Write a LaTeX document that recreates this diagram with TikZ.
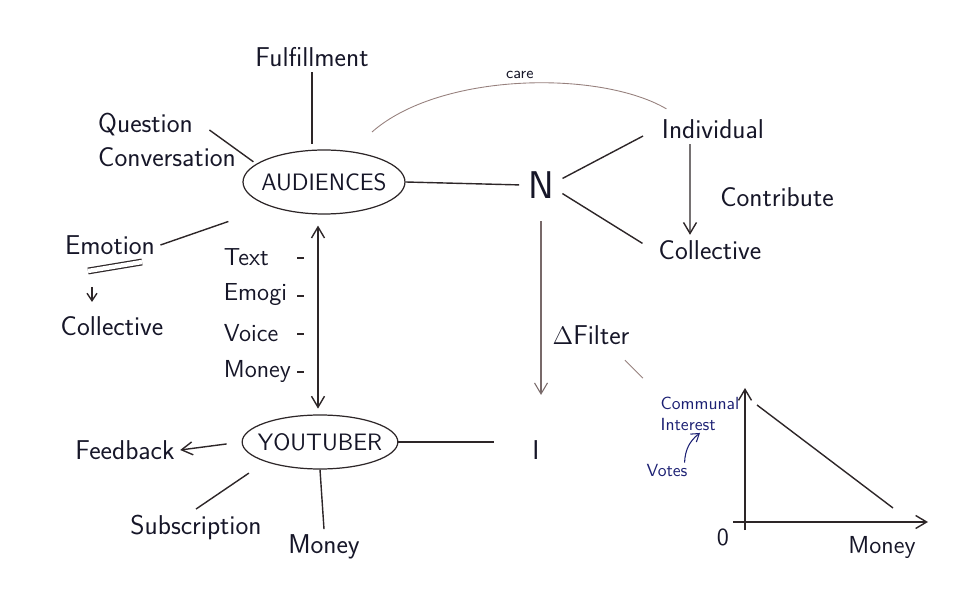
\documentclass[tikz,border=0pt]{standalone}
\usepackage{amsmath,amssymb}
\usepackage{tikz}
\usetikzlibrary{shapes.geometric, arrows.meta, positioning}

\definecolor{ink}{RGB}{22,22,40}
\definecolor{pen}{RGB}{45,38,40}
\definecolor{pencil}{RGB}{150,128,125}
\definecolor{greypen}{RGB}{120,105,105}
\definecolor{bluepen}{RGB}{28,32,115}

\begin{document}
\begin{tikzpicture}[
    x=0.02cm, y=-0.02cm,
    every node/.style={text=ink, font=\sffamily},
    word/.style={font=\sffamily\fontsize{15.5}{19}\selectfont, inner sep=3pt},
    smallword/.style={font=\sffamily\fontsize{14}{17}\selectfont, inner sep=2pt},
    note/.style={font=\sffamily\normalsize, text=bluepen, inner sep=1pt},
    bubble/.style={draw=pen, ellipse, line width=0.7pt, inner xsep=-4pt, inner ysep=0pt, font=\sffamily\fontsize{13.5}{16}\selectfont},
    link/.style={draw=pen, line width=0.8pt},
    faint/.style={draw=pencil, line width=0.5pt},
    arrow/.style={link, -{Straight Barb[length=2.2mm, width=2.6mm]}},
    both/.style={link, {Straight Barb[length=2.2mm, width=2.6mm]}-{Straight Barb[length=2.2mm, width=2.6mm]}}
]
\useasboundingbox (0,0) rectangle (980,597);

% Audience side
\node[bubble, minimum width=3.24cm, minimum height=1.28cm] (aud) at (324,182) {AUDIENCES};
\node[word] (ful) at (312,57) {Fulfillment};
\node[word, align=left] (qc) at (167,140) {Question\\Conversation};
\node[word] (emo) at (110,245) {Emotion};
\node[word] (colL) at (112,326) {Collective};
\node[word, font=\sffamily\fontsize{22}{26}\selectfont] (n) at (541,185) {N};
\node[word] (ind) at (713,129) {Individual};
\node[word] (colR) at (710,250) {Collective};
\node[word] (con) at (777,197) {Contribute};
\node[word] (flt) at (591,335) {$\Delta$Filter};
\node[word] (i) at (536,450) {I};

% Youtuber side
\node[bubble, minimum width=3.04cm, minimum height=1.08cm] (yt) at (320,442) {YOUTUBER};
\node[word] (fb) at (125,450) {Feedback};
\node[word] (sub) at (196,527) {Subscription};
\node[word] (mb) at (324,547) {Money};

% Channels
\foreach \nm/\txt [count=\k] in {txt/Text, emj/Emogi, voi/Voice, mny/Money}{
  \node[smallword, anchor=west] (\nm) at (220,219+38*\k) {\txt};
  \draw[link] (297,220+38*\k) -- (304,220+38*\k);
}

% Graph
\draw[link, -{Straight Barb[length=2.2mm, width=2.6mm]}] (745,530) -- (745,388);
\draw[arrow] (733,522) -- (928,522);
\draw[link] (757,405) -- (893,508);
\node[smallword] (zero) at (723,537) {0};
\node[smallword] (gm) at (882,547) {Money};
\node[note, align=left] (ci) at (700,414) {Communal\\Interest};
\node[note] (vot) at (667,471) {Votes};
\draw[draw=bluepen, line width=0.6pt, -{Straight Barb[length=1.5mm, width=2mm]}] ([xshift=-0.1cm]vot.north east) to[bend left=25] (ci.south);

% Connectors
\draw[link, shorten >=3pt] (ful.south) -- (ful.south |- aud.north);
\draw[link, shorten >=2pt] ([shift={(-32,-10)}]qc.east) -- (aud.165);
\draw[link, shorten >=0.9cm] (emo.east) -- (aud.205);
\draw[draw=pen, line width=0.7pt, double=white, double distance=2.5pt] ([shift={(-22,26)}]emo.center) -- ([shift={(32,17)}]emo.center);
\draw[link, -{Straight Barb[length=1.5mm, width=2mm]}] ([shift={(-18,42)}]emo.center) -- ([shift={(-20,-24)}]colL.center);
\draw[faint] ([shift={(48,-50)}]aud.center) .. controls (440,72) and (600,70) .. ([shift={(10,-5)}]ind.north west) node[midway, above=-1pt, font=\sffamily\small] {care};
\draw[link, shorten >=2pt] (aud.east) -- (n.west);
\draw[link, shorten <=2pt, shorten >=0.3cm] (n.15) -- (ind.west);
\draw[link, shorten <=2pt, shorten >=0.25cm] (n.-20) -- (colR.west);
\draw[arrow] ([xshift=-0.46cm]ind.south) -- ([xshift=-0.4cm]colR.north);
\draw[draw=greypen, line width=0.6pt, -{Straight Barb[length=2.2mm, width=2.6mm]}, shorten <=0.34cm, shorten >=0.8cm] (n.south) -- (n.south |- i.north);
\draw[faint] ([shift={(-10,10)}]flt.south east) -- ++(18,18);
\draw[both] (aud.south) ++(-6,11) -- ++(0,183);
\draw[arrow, shorten <=0.3cm] (yt.west) -- (fb.east);
\draw[link, shorten <=0.4cm] (yt.200) -- (sub.north);
\draw[link] (yt.south) -- (mb.north);
\draw[link, shorten >=0.66cm] (yt.east) -- (yt.east -| i.west);

\end{tikzpicture}
\end{document}
